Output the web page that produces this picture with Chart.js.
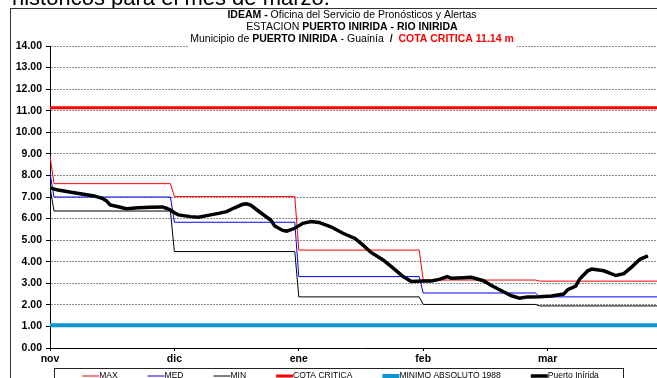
<!DOCTYPE html>
<html>
<head>
<meta charset="utf-8">
<script src="https://cdn.jsdelivr.net/npm/chart.js@4.4.1/dist/chart.umd.min.js"></script>
<style>
  html, body { margin: 0; padding: 0; background: #fff; overflow: hidden; }
  #nivelChart { display: block; }
</style>
</head>
<body>
<canvas id="nivelChart" width="700" height="378"></canvas>
<script>
// months on the x axis, one label every 31 days
const months = ["nov", "dic", "ene", "feb", "mar"];
const monthStart = [1, 31, 62, 93, 122];
const monthDays = [30, 31, 31, 29, 31];

// historical monthly levels (m)
const maxLevel = [7.62, 7.02, 4.54, 3.15, 3.10];
const medLevel = [7.00, 5.83, 3.31, 2.55, 2.37];
const minLevel = [6.35, 4.47, 2.37, 2.02, 1.95];
const firstDay = [8.9, 8.1, 7.45]; // max, med, min on day 0

const cotaCritica = 11.14;
const minimoAbsoluto = 1.06;

// Puerto Inírida daily readings
const riverDays = [0, 2, 6, 8, 11, 13, 14, 15, 17, 19, 22, 25, 28, 29, 30, 31, 32, 35, 37, 40,
  42, 44, 46, 48, 49, 50, 52, 55, 56, 58, 59, 61, 63, 65, 67, 70, 73, 76, 78, 80,
  83, 85, 88, 90, 93, 95, 97, 99, 100, 103, 105, 108, 110, 113, 115, 117, 119, 122, 125, 128,
  129, 131, 132, 134, 135, 138, 141, 143, 145, 147, 149];
const riverLevel = [7.42, 7.32, 7.20, 7.14, 7.05, 6.94, 6.83, 6.63, 6.55, 6.46, 6.50, 6.52, 6.54, 6.48, 6.40, 6.27, 6.17, 6.09, 6.06, 6.17,
  6.24, 6.32, 6.50, 6.66, 6.68, 6.62, 6.34, 5.93, 5.66, 5.45, 5.42, 5.55, 5.78, 5.86, 5.82, 5.62, 5.32, 5.08, 4.77, 4.43,
  4.08, 3.78, 3.31, 3.08, 3.11, 3.11, 3.18, 3.31, 3.23, 3.26, 3.28, 3.12, 2.90, 2.61, 2.42, 2.31, 2.37, 2.38, 2.41, 2.50,
  2.70, 2.87, 3.20, 3.58, 3.66, 3.58, 3.36, 3.45, 3.76, 4.11, 4.27];

const yTicks = [0, 14];
const xEnd = months.length * 31;

Chart.defaults.font.family = '"Liberation Sans", Arial, sans-serif';
Chart.defaults.color = "#000";

function monthSteps(levels, start) {
  const pts = [{ x: 0, y: start }];
  levels.forEach((v, i) => {
    pts.push({ x: monthStart[i], y: v });
    pts.push({ x: i === levels.length - 1 ? xEnd : monthStart[i] + monthDays[i] - 1, y: v });
  });
  return pts;
}

function flat(v) {
  return [{ x: 0, y: v }, { x: xEnd, y: v }];
}

const datasets = [
  { label: "MAX", data: monthSteps(maxLevel, firstDay[0]), borderColor: "#ff0000", borderWidth: 1, order: 1 },
  { label: "MED", data: monthSteps(medLevel, firstDay[1]), borderColor: "#0000ff", borderWidth: 1, order: 1 },
  { label: "MIN", data: monthSteps(minLevel, firstDay[2]), borderColor: "#000000", borderWidth: 1, order: 1 },
  { label: "COTA CRITICA", data: flat(cotaCritica), borderColor: "#ff0000", borderWidth: 3, order: 1 },
  { label: "MINIMO ABSOLUTO 1988", data: flat(minimoAbsoluto), borderColor: "#0b97cf", borderWidth: 4, order: 1 },
  { label: "Puerto Inírida", data: riverDays.map((d, i) => ({ x: d, y: riverLevel[i] })),
    borderColor: "#000000", borderWidth: 3.5, order: 0 }
];
datasets.forEach(d => { d.pointRadius = 0; d.fill = false; d.tension = 0; });

const titleLines = [
  [["IDEAM - ", true], ["Oficina del Servicio de Pronósticos y Alertas", false]],
  [["ESTACION ", false], ["PUERTO INIRIDA - RIO INIRIDA", true]],
  [["Municipio de ", false], ["PUERTO INIRIDA", true], [" - Guainía ", false], [" /  ", true],
   ["COTA CRITICA " + cotaCritica + " m", true, "#ff0000"]]
];

function fontOf(bold, size) {
  return (bold ? "bold " : "") + size + 'px "Liberation Sans", Arial, sans-serif';
}

// frame, top heading, title block and the boxed legend
const decor = {
  id: "decor",
  beforeDraw(chart) {
    const c = chart.ctx;
    c.save();
    c.fillStyle = "#fff";
    c.fillRect(0, 0, chart.width, chart.height);
    c.fillStyle = "#000";
    c.font = fontOf(false, 22);
    c.textBaseline = "alphabetic";
    c.fillText("históricos para el mes de marzo.", 12, 5);
    c.fillStyle = "#fff";
    c.fillRect(10, 8, chart.width, chart.height);
    c.strokeStyle = "#333";
    c.lineWidth = 1;
    c.strokeRect(10.5, 8.5, chart.width + 20, chart.height + 20);

    c.textBaseline = "middle";
    c.font = fontOf(true, 9);
    c.fillText("NIVEL", 22, 17);
    const w = c.measureText("NIVEL ").width;
    c.font = fontOf(false, 9);
    c.fillText("(m)", 22 + w, 17);
    c.restore();
  },
  afterDraw(chart) {
    const c = chart.ctx;
    const size = 10.5, cx = 352;
    c.save();
    c.textBaseline = "middle";
    const widths = titleLines.map(line => line.reduce((s, seg) => {
      c.font = fontOf(seg[1], size);
      return s + c.measureText(seg[0]).width;
    }, 0));
    const wMax = Math.max(...widths);
    c.fillStyle = "#fff";
    c.fillRect(cx - wMax / 2 - 2, 9, wMax + 5, 39);
    titleLines.forEach((line, k) => {
      let x = cx - widths[k] / 2;
      const y = 15.5 + k * 12;
      line.forEach(seg => {
        c.font = fontOf(seg[1], size);
        c.fillStyle = seg[2] || "#000";
        c.textAlign = "left";
        c.fillText(seg[0], x, y);
        x += c.measureText(seg[0]).width;
      });
    });

    // legend
    const boxL = 54, boxR = 623, boxT = 368;
    c.strokeStyle = "#222";
    c.lineWidth = 1;
    c.strokeRect(boxL + 0.5, boxT + 0.5, boxR - boxL, 30);
    c.font = fontOf(false, 8.5);
    const mark = 17, gap = 30;
    const items = chart.data.datasets.map(d => ({ d, w: mark + c.measureText(d.label).width }));
    const total = items.reduce((s, it) => s + it.w, 0) + gap * (items.length - 1);
    let x = (boxL + boxR) / 2 - total / 2 + 2;
    const ly = 376;
    items.forEach(it => {
      c.strokeStyle = it.d.borderColor;
      c.lineWidth = it.d.borderWidth;
      c.beginPath();
      c.moveTo(x, ly);
      c.lineTo(x + mark, ly);
      c.stroke();
      c.fillStyle = "#000";
      c.fillText(it.d.label, x + mark, ly);
      x += it.w + gap;
    });
    c.restore();
  }
};

new Chart(document.getElementById("nivelChart"), {
  type: "line",
  data: { datasets },
  plugins: [decor],
  options: {
    responsive: false,
    animation: false,
    devicePixelRatio: 1,
    layout: { padding: { top: 46, right: 28, bottom: 0, left: 0 } },
    plugins: { legend: { display: false }, tooltip: { enabled: false } },
    scales: {
      x: {
        type: "linear",
        min: 0,
        max: xEnd,
        afterFit: s => { s.height = 30; },
        ticks: {
          stepSize: 31,
          autoSkip: false,
          maxRotation: 0,
          padding: 2,
          font: { size: 10.5, weight: "bold" },
          callback: v => months[v / 31] || ""
        },
        grid: { drawOnChartArea: false, drawTicks: true, tickLength: 3, tickColor: "#000" },
        border: { color: "#000", width: 1 }
      },
      y: {
        min: yTicks[0],
        max: yTicks[1],
        afterFit: s => { s.width = 50; },
        ticks: {
          stepSize: 1,
          padding: 4,
          font: { size: 10.5, weight: "bold" },
          callback: v => v.toFixed(2)
        },
        grid: {
          color: ctx => (ctx.tick && ctx.tick.value === 0 ? "rgba(0,0,0,0)" : "#8c8c8c"),
          tickColor: "#000",
          tickLength: 4,
          lineWidth: 1
        },
        border: { color: "#000", width: 1, dash: [2, 1] }
      }
    }
  }
});
</script>
</body>
</html>
